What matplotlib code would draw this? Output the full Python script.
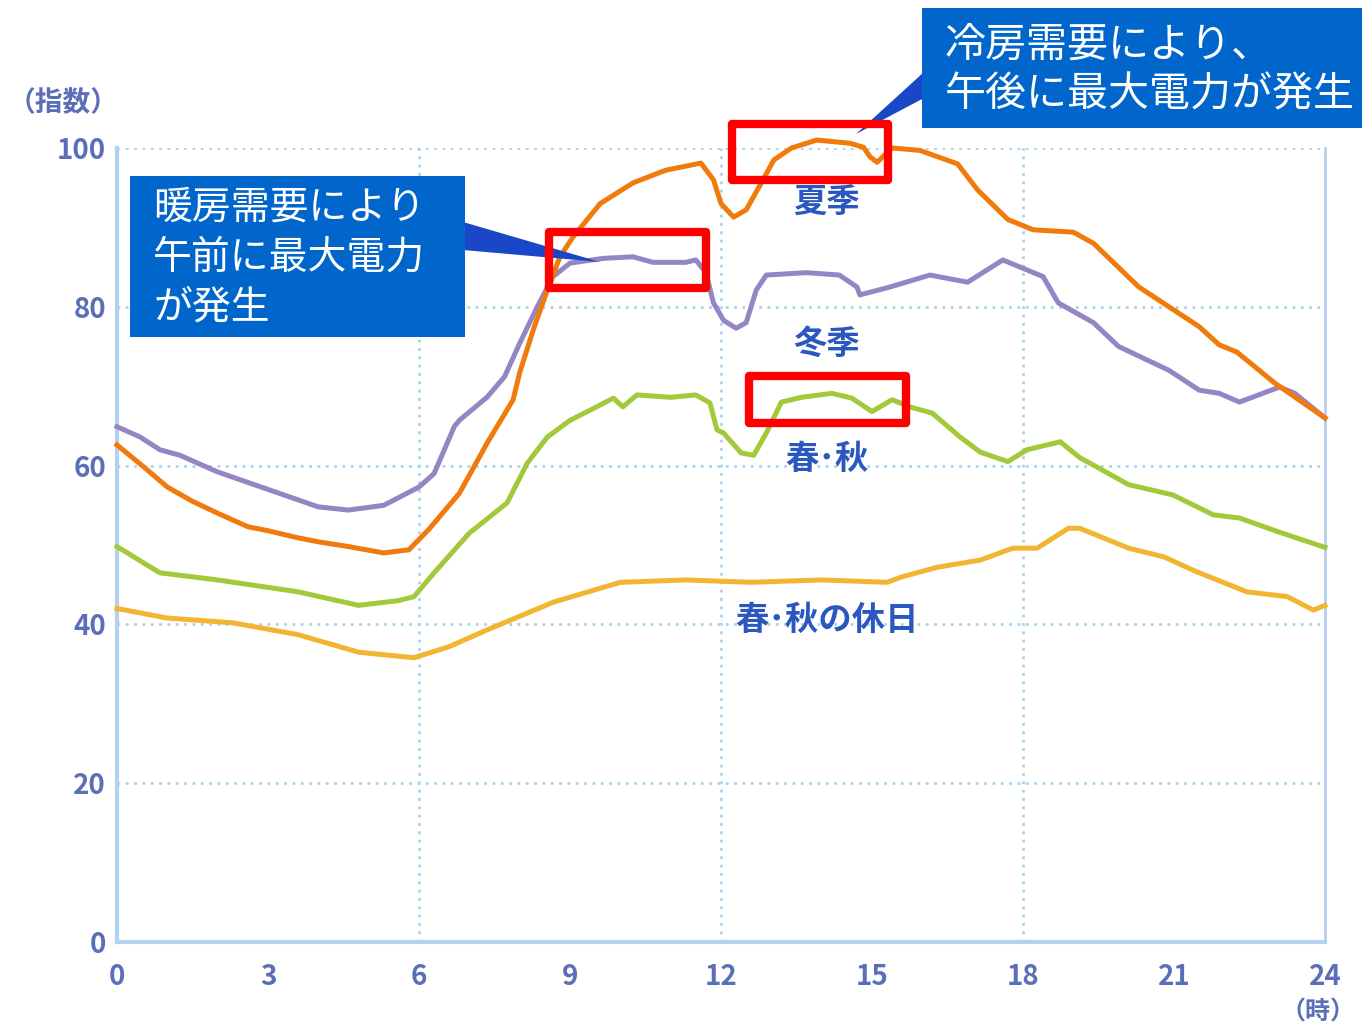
import matplotlib
matplotlib.use("Agg")
import matplotlib.pyplot as plt
from matplotlib.patches import Rectangle, Polygon

plt.rcParams['font.family'] = ['Noto Sans CJK JP', 'DejaVu Sans']

# --- data (hour, index) ---
summer_h = [0, 0.5, 1, 1.5, 2, 2.6, 3, 3.6, 4, 4.6, 5.3, 5.8, 6.2, 6.8, 7.35,
            7.87, 8.0, 8.27, 8.55, 8.8, 9.06, 9.6, 10.25, 10.9, 11.6, 11.85,
            12.0, 12.25, 12.5, 12.8, 13.05, 13.4, 13.9, 14.56, 14.83, 14.96,
            15.1, 15.4, 15.95, 16.7, 17.1, 17.7, 18.2, 19.0, 19.4, 20.3, 20.9,
            21.5, 21.9, 22.25, 23.0, 24]
summer_v = [62.6, 60, 57.3, 55.5, 54, 52.3, 51.8, 50.9, 50.4, 49.8, 49.0, 49.4,
            52, 56.5, 62.8, 68.3, 71.7, 77.1, 82.1, 86.3, 88.8, 93, 95.6, 97.2,
            98.1, 96, 93, 91.3, 92.2, 95.6, 98.5, 100, 101, 100.6, 100.1, 98.9,
            98.2, 100, 99.7, 98, 94.7, 91, 89.7, 89.4, 88, 82.5, 80, 77.5, 75.2,
            74.3, 70.4, 66]

winter_h = [0, 0.46, 0.85, 1.25, 2, 3, 4, 4.6, 5.3, 6.0, 6.3, 6.7, 6.8, 7.35,
            7.7, 8.0, 8.35, 8.66, 9.0, 9.66, 10.25, 10.65, 11.3, 11.5, 11.7,
            11.85, 12.05, 12.3, 12.5, 12.7, 12.9, 13.7, 14.35, 14.7, 14.76,
            15.36, 16.15, 16.9, 17.6, 18.4, 18.7, 19.4, 19.9, 20.9, 21.5, 21.9,
            22.3, 23.1, 23.4, 24]
winter_v = [64.9, 63.6, 62, 61.3, 59.2, 57, 54.8, 54.4, 55, 57.3, 59, 64.9,
            65.7, 68.6, 71.2, 75.4, 80, 83.8, 85.5, 86.1, 86.3, 85.6, 85.6, 85.9,
            84.3, 80.5, 78.3, 77.3, 78, 82.1, 84, 84.3, 84, 82.5, 81.5, 82.5, 84,
            83.1, 85.9, 83.8, 80.5, 78, 75, 72, 69.5, 69.1, 68, 69.9, 69.1, 66]

spring_h = [0, 0.85, 2, 3.6, 4.8, 5.6, 5.9, 6.3, 7.0, 7.75, 8.15, 8.55, 9.0,
            9.53, 9.86, 10.05, 10.33, 11.0, 11.5, 11.78, 11.92, 12.05, 12.4,
            12.65, 12.9, 13.2, 13.6, 14.2, 14.6, 15.0, 15.4, 15.75, 16.2, 16.75,
            17.15, 17.7, 18.08, 18.74, 19.13, 20.1, 20.98, 21.78, 22.3, 23.1, 24]
spring_v = [49.8, 46.5, 45.6, 44.1, 42.4, 43, 43.5, 46.5, 51.5, 55.3, 60.3,
            63.6, 65.7, 67.4, 68.5, 67.4, 68.9, 68.6, 68.9, 67.9, 64.5, 64.1,
            61.6, 61.3, 64.1, 68, 68.6, 69.1, 68.5, 66.8, 68.3, 67.4, 66.6, 63.6,
            61.7, 60.5, 62, 63, 61, 57.6, 56.3, 53.8, 53.4, 51.6, 49.7]

holiday_h = [0, 1, 2.3, 3.6, 4.8, 5.9, 6.6, 7.35, 8.67, 10, 11.3, 12.6, 14,
             15.3, 15.6, 16.3, 17.15, 17.8, 18.28, 18.9, 19.13, 20.1, 20.8,
             21.46, 22.45, 23.25, 23.77, 24]
holiday_v = [42, 40.8, 40.2, 38.7, 36.5, 35.8, 37.2, 39.3, 42.8, 45.3, 45.6,
             45.3, 45.6, 45.3, 46, 47.2, 48.1, 49.6, 49.6, 52.1, 52.1, 49.6,
             48.5, 46.6, 44.1, 43.5, 41.8, 42.4]

x_ticks = [0, 3, 6, 9, 12, 15, 18, 21, 24]
y_ticks = [0, 20, 40, 60, 80, 100]

W, H = 1362, 1033
TICK_COLOR = "#5b6fb8"
LABEL_COLOR = "#2a58c0"
GRID_COLOR = "#a8d4f0"
BOX_COLOR = "#0066cc"

fig = plt.figure(figsize=(W / 100, H / 100), dpi=100)
ax = fig.add_axes([117 / W, 1 - 942 / H, (1325 - 117) / W, (942 - 148) / H])

ax.plot(holiday_h, holiday_v, color="#f2b531", lw=3.6, clip_on=False, zorder=3)
ax.plot(spring_h, spring_v, color="#a2c93a", lw=3.6, clip_on=False, zorder=3)
ax.plot(winter_h, winter_v, color="#9585c4", lw=3.6, clip_on=False, zorder=3)
ax.plot(summer_h, summer_v, color="#f07a0a", lw=3.6, clip_on=False, zorder=4)

ax.set_xlim(0, 24)
ax.set_ylim(0, 100)
ax.set_xticks(x_ticks)
ax.set_yticks(y_ticks)
ax.tick_params(length=0, labelsize=20, labelcolor=TICK_COLOR)
ax.tick_params(axis="x", pad=15)
ax.tick_params(axis="y", pad=8)
for lab in ax.get_xticklabels() + ax.get_yticklabels():
    lab.set_fontweight("bold")

for y in y_ticks[1:]:
    ax.axhline(y, color=GRID_COLOR, lw=2, ls=(0, (1, 2)), zorder=1)
for x in [6, 12, 18]:
    ax.axvline(x, color=GRID_COLOR, lw=2, ls=(0, (1, 2)), zorder=1)

ax.spines["top"].set_visible(False)
ax.spines["left"].set_color("#b4d2f0")
ax.spines["left"].set_linewidth(3)
ax.spines["bottom"].set_color("#b4d2f0")
ax.spines["bottom"].set_linewidth(3)
ax.spines["right"].set_color("#b8cdee")
ax.spines["right"].set_linewidth(2)

# series labels
lab_kw = dict(color=LABEL_COLOR, fontsize=24, fontweight="bold",
              ha="center", va="center", zorder=5)
ax.text(14.1, 93, "夏季", **lab_kw)
ax.text(14.1, 75.3, "冬季", **lab_kw)
ax.text(14.1, 60.8, "春･秋", **lab_kw)
ax.text(14.1, 40.5, "春･秋の休日", **lab_kw)

# overlay in pixel coordinates for callouts
ov = fig.add_axes([0, 0, 1, 1], zorder=10)
ov.set_xlim(0, W)
ov.set_ylim(H, 0)
ov.axis("off")
ov.patch.set_alpha(0)

fig.text(8 / W, 1 - 103 / H, "（指数）", color=TICK_COLOR, fontsize=20,
         fontweight="bold", ha="left", va="center")
fig.text(1318 / W, 1 - 1013 / H, "（時）", color=TICK_COLOR, fontsize=18,
         fontweight="bold", ha="center", va="center")

# callout 1 (morning peak, winter)
ov.add_patch(Polygon([(463, 222), (463, 250), (600, 262)], closed=True,
                     color="#1a46c8", lw=0))
ov.add_patch(Rectangle((130, 176), 335, 161, color=BOX_COLOR, lw=0))
for i, line in enumerate(["暖房需要により", "午前に最大電力", "が発生"]):
    ov.text(153, 208 + 50 * i, line, color="white", fontsize=28,
            ha="left", va="center")

# callout 2 (afternoon peak, summer)
ov.add_patch(Polygon([(924, 72), (924, 98), (856, 134)], closed=True,
                     color="#1a46c8", lw=0))
ov.add_patch(Rectangle((922, 8), 440, 120, color=BOX_COLOR, lw=0))
for i, line in enumerate(["冷房需要により、", "午後に最大電力が発生"]):
    ov.text(945, 45 + 50 * i, line, color="white", fontsize=29.5,
            ha="left", va="center")

# red highlight rectangles (data coordinates)
for (x0, x1, y0, y1) in [(8.58, 11.70, 82.4, 89.4),
                         (12.22, 15.32, 96.0, 103.0),
                         (12.56, 15.67, 65.4, 71.3)]:
    ov.add_patch(Rectangle((x0, y0), x1 - x0, y1 - y0, transform=ax.transData,
                           fill=False, edgecolor="#ff0000", lw=6,
                           joinstyle="round"))

fig.savefig("out.png", dpi=100, facecolor="white")
